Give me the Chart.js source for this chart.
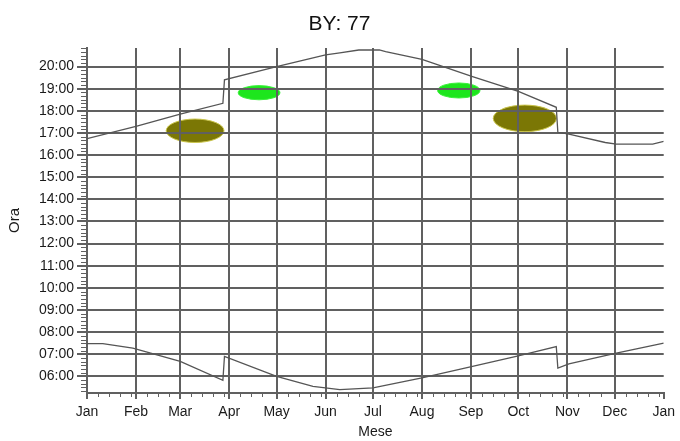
<!DOCTYPE html>
<html>
<head>
<meta charset="utf-8">
<title>BY: 77</title>
<script src="https://cdn.jsdelivr.net/npm/chart.js@4"></script>
<style>
  html, body { margin: 0; padding: 0; background: #fff; }
  #wrap { width: 680px; height: 441px; }
</style>
</head>
<body>
<div id="wrap"><canvas id="sunChart" width="680" height="441"></canvas></div>
<script>
'use strict';

/* ---- data ---------------------------------------------------------------- */

// x axis: day of year, labelled at the first day of each month
const monthLabels = ['Jan', 'Feb', 'Mar', 'Apr', 'May', 'Jun', 'Jul', 'Aug', 'Sep', 'Oct', 'Nov', 'Dec', 'Jan'];
const monthStartDays = [0, 31, 59, 90, 120, 151, 181, 212, 243, 273, 304, 334, 365];

// y axis: hour of day
const hourTicks = [6, 7, 8, 9, 10, 11, 12, 13, 14, 15, 16, 17, 18, 19, 20];
const hourLabels = ['06:00', '07:00', '08:00', '09:00', '10:00', '11:00', '12:00', '13:00',
                    '14:00', '15:00', '16:00', '17:00', '18:00', '19:00', '20:00'];

// sunset (local time, with the daylight-saving jumps)
const sunsetDays  = [0, 31, 59, 86, 87, 120, 151, 160, 172, 185, 189, 212, 244, 273, 297, 298, 305, 328, 335, 358, 365];
const sunsetHours = [16.74, 17.3, 17.85, 18.34, 19.4, 20.0, 20.53, 20.62, 20.75, 20.75, 20.68, 20.33, 19.55, 18.88, 18.16, 17.03, 16.95, 16.57, 16.5, 16.5, 16.62];

// sunrise
const sunriseDays  = [0, 10, 29, 59, 86, 87, 120, 143, 160, 181, 212, 244, 273, 297, 298, 305, 335, 365];
const sunriseHours = [7.48, 7.48, 7.28, 6.68, 5.82, 6.9, 6.0, 5.55, 5.4, 5.48, 5.93, 6.45, 6.93, 7.35, 6.38, 6.57, 7.05, 7.5];

// observation windows (drawn as filled ellipses): day range x hour range
const blobStartDay  = [50.1, 95.7, 221.9, 257.1];
const blobEndDay    = [86.7, 122.1, 248.7, 297.1];
const blobLowHour   = [16.57, 18.5, 18.58, 17.06];
const blobHighHour  = [17.63, 19.14, 19.26, 18.26];

/* ---- helpers ------------------------------------------------------------- */

const toPoints = (xs, ys) => xs.map((d, i) => ({ x: d, y: ys[i] }));

const GRID = '#606060';

// ellipses go under the grid, like in the original plot
const blobPlugin = {
    id: 'blobs',
    beforeDraw(chart, args, opts) {
        const { ctx, scales: { x, y } } = chart;
        ctx.save();
        blobStartDay.forEach((d0, i) => {
            const x0 = x.getPixelForValue(d0);
            const x1 = x.getPixelForValue(blobEndDay[i]);
            const y0 = y.getPixelForValue(blobHighHour[i]);
            const y1 = y.getPixelForValue(blobLowHour[i]);
            ctx.beginPath();
            ctx.ellipse((x0 + x1) / 2, (y0 + y1) / 2, (x1 - x0) / 2, (y1 - y0) / 2, 0, 0, Math.PI * 2);
            ctx.fillStyle = opts.colors[i];
            ctx.fill();
            ctx.lineWidth = 1;
            ctx.strokeStyle = opts.edges[i];
            ctx.stroke();
        });
        ctx.restore();
    },
};

// small unlabelled ticks: weekly on x, every 10 minutes on y
const minorTickPlugin = {
    id: 'minorTicks',
    afterDraw(chart) {
        const { ctx, scales: { x, y } } = chart;
        ctx.save();
        ctx.strokeStyle = GRID;
        ctx.lineWidth = 1;
        ctx.beginPath();
        for (let m = 0; m < 12; m++) {
            for (let d = monthStartDays[m] + 7; d < monthStartDays[m + 1] - 2; d += 7) {
                const px = Math.round(x.getPixelForValue(d)) + 0.5;
                ctx.moveTo(px, y.bottom);
                ctx.lineTo(px, y.bottom + 4);
            }
        }
        for (let k = 32; k / 6 < y.max; k++) {
            if (k % 6 === 0) continue;
            const py = Math.round(y.getPixelForValue(k / 6)) + 0.5;
            ctx.moveTo(x.left - 6, py);
            ctx.lineTo(x.left, py);
        }
        ctx.stroke();
        ctx.restore();
    },
};

/* ---- chart --------------------------------------------------------------- */

Chart.defaults.font.family = "'Liberation Sans', Arial, sans-serif";
Chart.defaults.color = '#1a1a1a';

const lineStyle = {
    showLine: true,
    pointRadius: 0,
    borderColor: '#555',
    borderWidth: 1.3,
    fill: false,
    tension: 0,
};

new Chart(document.getElementById('sunChart').getContext('2d'), {
    type: 'scatter',
    data: {
        datasets: [
            { label: 'Tramonto', data: toPoints(sunsetDays, sunsetHours), ...lineStyle },
            { label: 'Alba', data: toPoints(sunriseDays, sunriseHours), ...lineStyle },
        ],
    },
    options: {
        responsive: false,
        animation: false,
        // left/right padding balanced so the title sits at the canvas centre
        layout: { padding: { left: 14, right: 15, top: 0, bottom: 0 } },
        plugins: {
            legend: { display: false },
            tooltip: { enabled: false },
            title: {
                display: true,
                text: 'BY: 77',
                color: '#111',
                font: { size: 21, weight: 'normal' },
                padding: { top: 12, bottom: 10.8 },
            },
            blobs: {
                colors: ['#7b7705', '#1de61d', '#1de61d', '#7b7705'],
                edges: ['#c9c44a', '#3af03a', '#3af03a', '#c9c44a'],
            },
        },
        scales: {
            x: {
                type: 'linear',
                min: 0,
                max: 365,
                afterBuildTicks: s => { s.ticks = monthStartDays.map(v => ({ value: v })); },
                afterFit: s => { s.height = 48; },
                ticks: {
                    autoSkip: false,
                    maxRotation: 0,
                    padding: 5,
                    font: { size: 14 },
                    callback: (v, i) => monthLabels[i],
                },
                grid: {
                    color: c => (c.tick && c.tick.value === 365 ? 'rgba(0,0,0,0)' : GRID),
                    tickColor: GRID,
                    lineWidth: 2,
                    tickLength: 6,
                },
                border: { color: GRID, width: 2 },
                title: {
                    display: true,
                    text: 'Mese',
                    font: { size: 14 },
                    padding: { top: 0, bottom: 0 },
                },
            },
            y: {
                type: 'linear',
                min: 5.25,
                max: 20.84,
                afterBuildTicks: s => { s.ticks = hourTicks.map(v => ({ value: v })); },
                afterFit: s => { s.width = 73; },
                ticks: {
                    padding: 3,
                    font: { size: 14 },
                    callback: (v, i) => hourLabels[i],
                },
                grid: {
                    color: GRID,
                    lineWidth: 2,
                    tickLength: 10,
                },
                border: { color: GRID, width: 2 },
                title: {
                    display: true,
                    text: 'Ora',
                    font: { size: 15 },
                    padding: { top: -8, bottom: 0 },
                },
            },
        },
    },
    plugins: [blobPlugin, minorTickPlugin],
});
</script>
</body>
</html>
